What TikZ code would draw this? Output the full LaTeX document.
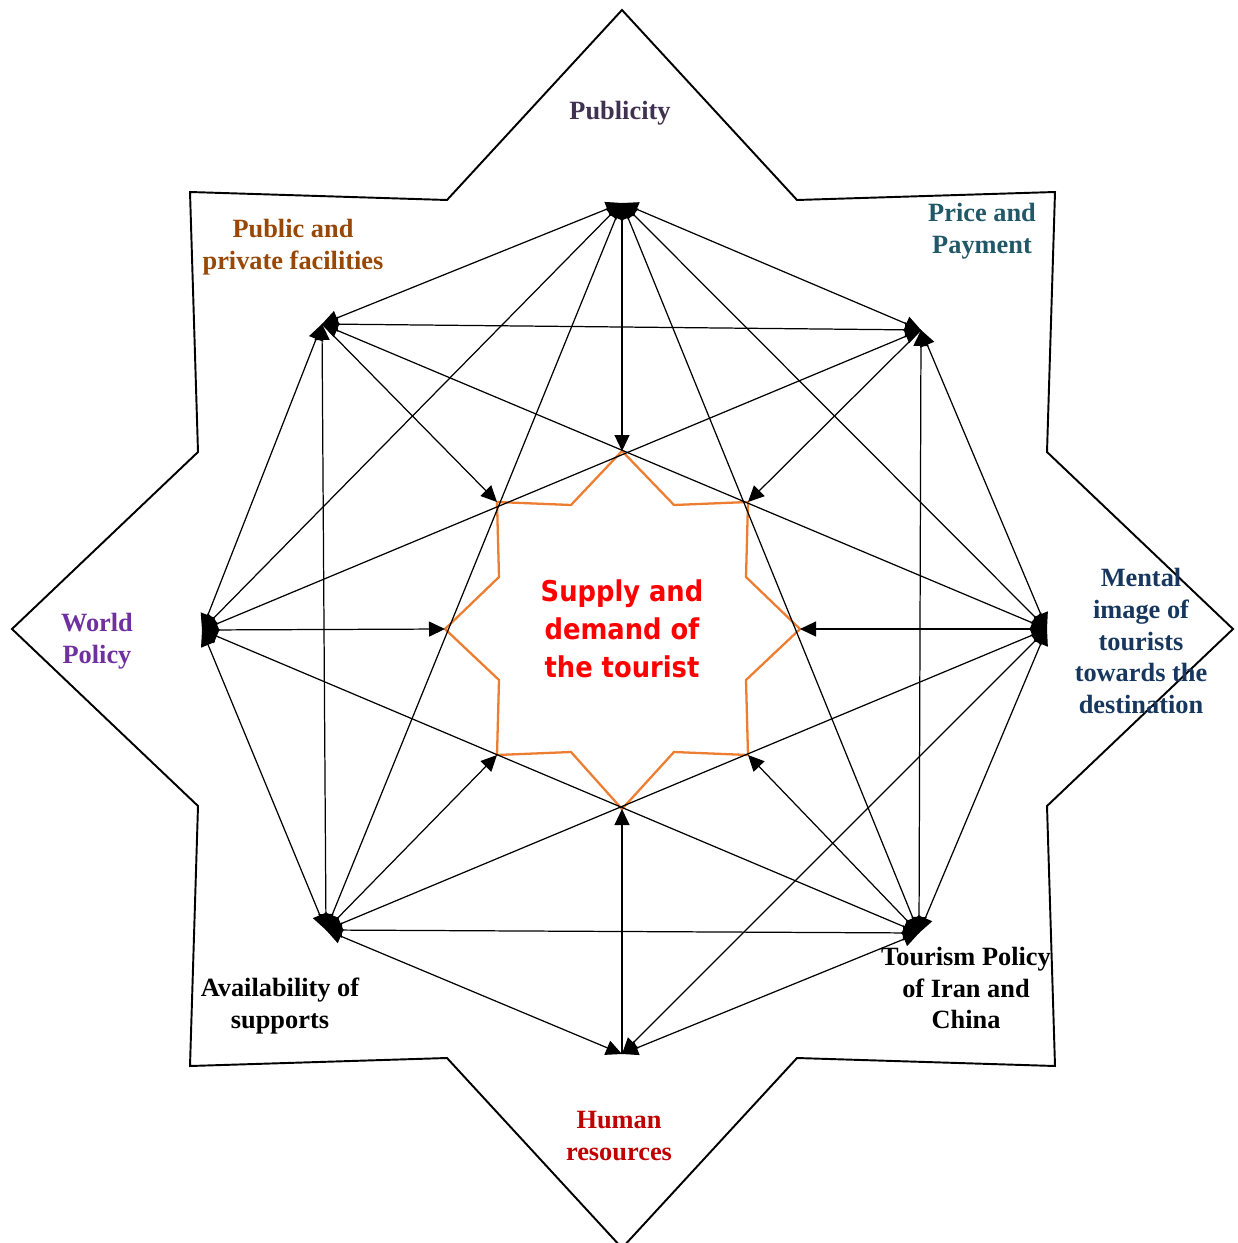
\documentclass[tikz,border=0pt]{standalone}
\usepackage{fontspec}
\setmainfont{Liberation Serif}
\newfontfamily\corefont{DejaVu Sans Condensed}
\usetikzlibrary{arrows.meta}

\definecolor{starorange}{HTML}{ED7D31}
\definecolor{pubcol}{HTML}{403151}
\definecolor{faccol}{HTML}{974806}
\definecolor{pricecol}{HTML}{215868}
\definecolor{mentcol}{HTML}{17375E}
\definecolor{worldcol}{HTML}{7030A0}
\definecolor{humcol}{HTML}{C00000}

\tikzset{
  link/.style={line width=0.7pt,{Triangle[length=3.2mm,width=3mm]}-{Triangle[length=3.2mm,width=3mm]}},
  feed/.style={line width=0.7pt,-{Triangle[length=3.2mm,width=3mm]}},
  factor/.style={font=\bfseries\fontsize{15}{18}\selectfont,align=center,inner sep=0pt},
}

\begin{document}
\begin{tikzpicture}[x=0.2mm,y=-0.2mm]
\useasboundingbox (0,0) rectangle (1237,1243);

% big star
\draw[line width=1.1pt] (622,10) -- (797,200) -- (1055,192) -- (1047,452) -- (1233,629)
      -- (1047,806) -- (1055,1066) -- (797,1058) -- (622,1248) -- (447,1058)
      -- (190,1066) -- (198,806) -- (12,629) -- (198,452) -- (190,192) -- (447,200) -- cycle;

% small star
\coordinate (inTop) at (622,451);
\coordinate (inTR) at (748,502);
\coordinate (inR) at (800,629);
\coordinate (inBR) at (748,755);
\coordinate (inBot) at (622,809);
\coordinate (inBL) at (497,755);
\coordinate (inL) at (445,629);
\coordinate (inTL) at (497,502);
\draw[starorange,line width=1.3pt] (inTop) -- (674,505) -- (inTR) -- (746,577) -- (inR)
      -- (746,680) -- (inBR) -- (674,752) -- (inBot) -- (571,752) -- (inBL)
      -- (499,680) -- (inL) -- (499,577) -- (inTL) -- (571,505) -- cycle;
\node[font=\corefont\bfseries\fontsize{16.3}{21.5}\selectfont,text=red,align=center] (core) at (622,629)
      {Supply and\\demand of\\the tourist};

% factors
\coordinate (pub) at (622,203);
\coordinate (price) at (921,330);
\coordinate (mental) at (1047,629);
\coordinate (tour) at (919,933);
\coordinate (human) at (622,1054);
\coordinate (avail) at (326,930);
\coordinate (world) at (202,630);
\coordinate (facil) at (322,324);

\foreach \a/\b in {pub/facil,pub/price,pub/world,pub/mental,pub/avail,pub/tour,
                   price/facil,price/world,price/tour,price/mental,
                   mental/facil,mental/avail,mental/human,mental/tour,
                   tour/world,tour/avail,tour/human,
                   human/avail,
                   avail/world,avail/facil,
                   world/facil}
  \draw[link] (\a) -- (\b);

\foreach \a/\b in {pub/inTop,price/inTR,mental/inR,tour/inBR,human/inBot,avail/inBL,world/inL,facil/inTL}
  \draw[feed] (\a) -- (\b);

% labels
\node[factor,text=pubcol] (lpub) at (620,113) {Publicity};
\node[factor,text=faccol] (lfacil) at (293,247) {Public and\\private facilities};
\node[factor,text=pricecol] (lprice) at (982,231) {Price and\\Payment};
\node[factor,text=mentcol] (lmental) at (1141,641) {Mental\\image of\\tourists\\towards the\\destination};
\node[factor,text=worldcol] (lworld) at (97,641) {World\\Policy};
\node[factor] (lavail) at (280,1006) {Availability of\\supports};
\node[factor,text=humcol] (lhuman) at (619,1136) {Human\\resources};
\node[factor] (ltour) at (966,988) {Tourism Policy\\of Iran and\\China};
\end{tikzpicture}
\end{document}
